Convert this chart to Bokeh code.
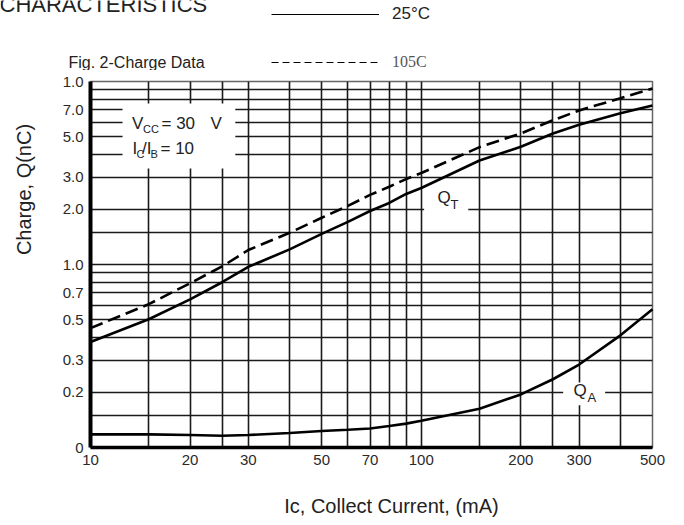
import math
from bokeh.plotting import figure
from bokeh.layouts import column, row
from bokeh.models import (FixedTicker, Label, BoxAnnotation, Legend, LegendItem,
                          BasicTickFormatter)
from bokeh.core.properties import value
from bokeh.embed import file_html
from bokeh.resources import INLINE

# ---------------- data ----------------
ic_ma = [10, 15, 20, 25, 30, 40, 50, 60, 70, 80, 90, 100, 150, 200, 250, 300, 400, 500]
qt_25c = [0.377, 0.502, 0.645, 0.80, 0.97, 1.21, 1.47, 1.71, 1.96, 2.17, 2.43, 2.62,
          3.70, 4.40, 5.20, 5.80, 6.70, 7.40]
qt_105c = [0.449, 0.607, 0.79, 0.976, 1.20, 1.49, 1.80, 2.09, 2.40, 2.66, 2.93, 3.16,
           4.38, 5.20, 6.14, 6.95, 8.10, 9.16]
qa_25c = [0.118, 0.118, 0.117, 0.116, 0.117, 0.120, 0.123, 0.125, 0.127, 0.131, 0.135, 0.140,
          0.163, 0.195, 0.236, 0.284, 0.410, 0.569]

x_ticks = [10, 20, 30, 50, 70, 100, 200, 300, 500]
x_tick_labels = ["10", "20", "30", "50", "70", "100", "200", "300", "500"]
y_ticks = [0.1, 0.2, 0.3, 0.5, 0.7, 1.0, 2.0, 3.0, 5.0, 7.0, 10.0]
y_tick_labels = ["0", "0.2", "0.3", "0.5", "0.7", "1.0", "2.0", "3.0", "5.0", "7.0", "1.0"]
x_grid = [15, 20, 25, 30, 40, 50, 60, 70, 80, 90, 100, 150, 200, 250, 300, 400]
y_grid = [0.15, 0.2, 0.3, 0.4, 0.5, 0.6, 0.7, 0.8, 0.9, 1.0, 1.5, 2, 3, 4, 5, 6, 7, 8, 9]

FONT = "Liberation Sans"
INK = "#1a1a1a"
TXT = "#222222"


def blank(width, height):
    f = figure(width=width, height=height, output_backend="svg", toolbar_location=None,
               x_axis_location=None, y_axis_location=None, min_border=0,
               x_range=(0, 1), y_range=(0, 1))
    f.grid.visible = False
    f.outline_line_color = None
    f.background_fill_color = "white"
    f.border_fill_color = "white"
    return f


def add_label(fig, text, sx, sy, size, align="left", baseline="middle", color=TXT,
              angle=0.0, font=FONT):
    fig.add_layout(Label(x=sx, y=sy, x_units="screen", y_units="screen",
                         text=text, text_font=font, text_font_size=f"{size}px",
                         text_color=color, text_align=align, text_baseline=baseline,
                         angle=angle))


def make_legend(label, renderer, loc, gh, font, size, color):
    return Legend(items=[LegendItem(label=value(label), renderers=[renderer])],
                  location=loc, glyph_width=108, glyph_height=gh, label_height=gh,
                  label_standoff=13, padding=0, margin=0, spacing=0,
                  border_line_color=None, background_fill_alpha=0,
                  inactive_fill_alpha=0,
                  label_text_font=font, label_text_font_size=size,
                  label_text_color=color)


# ---------------- header (page y 0..70) ----------------
HEAD_H = 70
head = blank(684, HEAD_H)
add_label(head, "CHARACTERISTICS", -1, HEAD_H - 4, 22, baseline="alphabetic")
add_label(head, "Fig. 2-Charge Data", 68, HEAD_H - 62, 16)
# legend samples: hidden copies of the series, so only the legend draws them
leg_solid = head.line(ic_ma, qt_25c, line_color="black", line_width=1, visible=False)
leg_dash = head.line(ic_ma, qt_105c, line_color="black", line_width=1, line_dash="7 4",
                     visible=False)
head.add_layout(make_legend("25°C", leg_solid, (271, HEAD_H - 26), 24,
                            FONT, "17px", TXT))
head.add_layout(make_legend("105C", leg_dash, (271, HEAD_H - 71), 18,
                            "Liberation Serif", "16px", "#555555"))

# ---------------- y-axis title strip (page x 0..40, y 70..480) ----------------
MID_H = 410
ylab = blank(40, MID_H)
add_label(ylab, "Charge, Q(nC)", 23, MID_H - (222 - HEAD_H), 20, align="center",
          angle=math.pi / 2)

# ---------------- main chart (page x 40..684, y 70..480) ----------------
p = figure(width=644, height=MID_H, x_axis_type="log", y_axis_type="log",
           x_range=(10, 500), y_range=(0.1, 10),
           output_backend="svg", toolbar_location=None,
           min_border_left=50, min_border_right=32, min_border_top=11, min_border_bottom=33)
p.background_fill_color = "white"
p.border_fill_color = "white"
p.outline_line_color = "#666666"
p.outline_line_width = 1.5

p.xgrid.ticker = FixedTicker(ticks=x_grid)
p.ygrid.ticker = FixedTicker(ticks=y_grid)
for g in (p.xgrid, p.ygrid):
    g.grid_line_color = INK
    g.grid_line_width = 1.6
    g.grid_line_alpha = 1.0

p.xaxis.ticker = FixedTicker(ticks=x_ticks)
p.xaxis.formatter = BasicTickFormatter()
p.xaxis.major_label_overrides = {float(t): l for t, l in zip(x_ticks, x_tick_labels)}
p.yaxis.ticker = FixedTicker(ticks=y_ticks)
p.yaxis.formatter = BasicTickFormatter()
p.yaxis.major_label_overrides = {float(t): l for t, l in zip(y_ticks, y_tick_labels)}
for ax in (p.xaxis[0], p.yaxis[0]):
    ax.major_tick_line_color = None
    ax.minor_tick_line_color = None
    ax.major_tick_out = 0
    ax.major_tick_in = 0
    ax.axis_line_color = "black"
    ax.major_label_text_font = FONT
    ax.major_label_text_font_size = "15px"
    ax.major_label_text_color = "#2a2a2a"
    ax.major_label_standoff = 7
p.yaxis.axis_line_width = 4
p.xaxis.axis_line_width = 3.5

# white masks behind the in-plot labels
p.add_layout(BoxAnnotation(left=12.5, right=27.4, bottom=3.35, top=7.59,
                           fill_color="white", fill_alpha=1, line_color=None))
p.add_layout(BoxAnnotation(left=102, right=138.7, bottom=1.92, top=2.15,
                           fill_color="white", fill_alpha=1, line_color=None))
p.add_layout(BoxAnnotation(left=268.5, right=359.6, bottom=0.170, top=0.2266,
                           fill_color="white", fill_alpha=1, line_color=None))

# curves
p.line(ic_ma, qt_25c, line_color="black", line_width=2.6, level="overlay")
p.line(ic_ma, qt_105c, line_color="black", line_width=2.6, line_dash="13 6", level="overlay")
p.line(ic_ma, qa_25c, line_color="black", line_width=2.6, level="overlay")


def sx(page_x):
    return page_x - 90


def sy(page_y):
    return 447 - page_y


# condition box text
add_label(p, "V", sx(131.5), sy(123), 17)
add_label(p, "CC", sx(142.5), sy(128), 11)
add_label(p, "= 30", sx(161), sy(123), 17)
add_label(p, "V", sx(210), sy(123), 17)
add_label(p, "I", sx(132), sy(148), 17)
add_label(p, "C", sx(136), sy(153), 11)
add_label(p, "/I", sx(141.5), sy(148), 17)
add_label(p, "B", sx(150), sy(153), 11)
add_label(p, "= 10", sx(160), sy(148), 17)

# curve labels
add_label(p, "Q", sx(437), sy(197), 17)
add_label(p, "T", sx(450), sy(204), 13)
add_label(p, "Q", sx(573), sy(390), 17)
add_label(p, "A", sx(587), sy(397), 13)

# ---------------- x-axis title strip (page y 480..524) ----------------
FOOT_H = 44
foot = blank(684, FOOT_H)
add_label(foot, "Ic, Collect Current, (mA)", 391, FOOT_H - (505 - 480), 20, align="center")

layout = column(head, row(ylab, p), foot)
open("out.html", "w").write(file_html(layout, INLINE))
